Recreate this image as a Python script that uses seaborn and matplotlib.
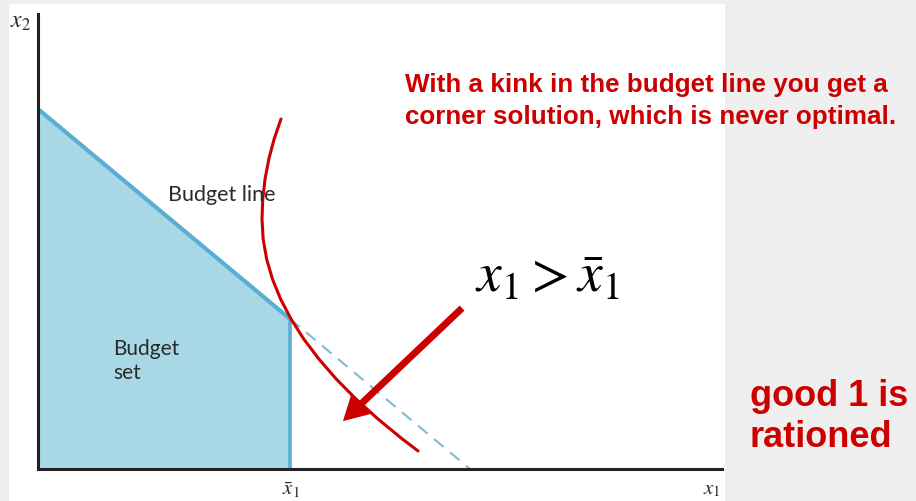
import matplotlib
matplotlib.use("Agg")
import matplotlib.pyplot as plt
from matplotlib.patches import Rectangle
import seaborn as sns
import pandas as pd

# Budget constraint: x2-intercept, x1-intercept and the ration limit x1_bar
budget_x1 = [0.0, 7.0]
budget_x2 = [10.0, 4.17]
dashed_x1 = [7.0, 12.0]
dashed_x2 = [4.17, 0.0]
ration_x1 = 7.0

# Indifference curve passing through the kink
indiff_x1 = [6.750, 6.560, 6.412, 6.307, 6.243, 6.222, 6.254, 6.351, 6.512,
             6.738, 7.028, 7.382, 7.801, 8.284, 8.832, 9.444, 10.121, 10.558]
indiff_x2 = [9.722, 9.167, 8.611, 8.056, 7.500, 6.944, 6.389, 5.833, 5.278,
             4.722, 4.167, 3.611, 3.056, 2.500, 1.944, 1.389, 0.833, 0.500]

# Arrow pointing at the rationed region
arrow_tail = (11.78, 4.47)
arrow_head = (8.47, 1.33)

RED = "#cc0000"
LINE_BLUE = "#5aaed2"
FILL_BLUE = "#a8d8e6"
DASH_BLUE = "#80bbd0"
INK = "#2a2a2a"

sns.set_theme(style="white")
plt.rcParams["mathtext.fontset"] = "stix"

W, H = 916, 502
fig = plt.figure(figsize=(W / 100, H / 100), dpi=100)
fig.patch.set_facecolor("#efefef")


def fx(px):
    return px / W


def fy(py):
    return 1 - py / H


# white slide panel behind the diagram
fig.patches.append(Rectangle((fx(9), 0), fx(725) - fx(9), fy(5), transform=fig.transFigure,
                             facecolor="white", edgecolor="none", zorder=-1))

ax = fig.add_axes([fx(38), fy(470), fx(722) - fx(38), fy(15) - fy(470)])
ax.set_facecolor("none")
ax.set_xlim(0, 19)
ax.set_ylim(0, 12.64)
ax.set_xticks([])
ax.set_yticks([])
for side in ("top", "right"):
    ax.spines[side].set_visible(False)
for side in ("left", "bottom"):
    ax.spines[side].set_color("#222222")
    ax.spines[side].set_linewidth(2.2)

# budget set
ax.fill_between(budget_x1, budget_x2, 0, color=FILL_BLUE, lw=0, zorder=1)

budget = pd.DataFrame({"x1": budget_x1, "x2": budget_x2})
sns.lineplot(data=budget, x="x1", y="x2", ax=ax, color=LINE_BLUE, lw=3, sort=False,
             estimator=None, zorder=2)
ax.plot([ration_x1, ration_x1], [0, budget_x2[-1]], color=LINE_BLUE, lw=2.6, zorder=2,
        solid_capstyle="butt")
ax.plot(dashed_x1, dashed_x2, color=DASH_BLUE, lw=1.5, dashes=(6, 4), zorder=2)

indiff = pd.DataFrame({"x1": indiff_x1, "x2": indiff_x2})
sns.lineplot(data=indiff, x="x1", y="x2", ax=ax, color=RED, lw=2.2, sort=False,
             estimator=None, zorder=4)

ax.annotate("", xy=arrow_head, xytext=arrow_tail,
            arrowprops=dict(arrowstyle="simple,head_length=1.8,head_width=2.0,tail_width=0.5",
                            mutation_scale=10, color=RED, lw=0, shrinkA=0, shrinkB=0),
            zorder=5)
ax.set_xlabel("")
ax.set_ylabel("")

# axis labels
fig.text(fx(20), fy(21), r"$x_2$", fontsize=17, color=INK, ha="center", va="center")
fig.text(fx(291), fy(490), r"$\bar{x}_1$", fontsize=15, color=INK, ha="center", va="center")
fig.text(fx(712), fy(489), r"$x_1$", fontsize=15, color=INK, ha="center", va="center")

# region labels
fig.text(fx(168), fy(195), "Budget line", fontsize=15.5, family="Lato", color=INK,
         ha="left", va="center")
fig.text(fx(113), fy(361), "Budget\nset", fontsize=15, family="Lato", color=INK,
         ha="left", va="center", linespacing=1.3)

# annotations
fig.text(fx(405), fy(101), "With a kink in the budget line you get a\n"
         "corner solution, which is never optimal.",
         fontsize=18.7, family="Liberation Sans", weight="bold", color=RED,
         ha="left", va="center", linespacing=1.37)
fig.text(fx(475), fy(292), r"$x_{\mathit{1}} > \bar{x}_{\mathit{1}}$", fontsize=40,
         color="black", ha="left", va="baseline")
fig.text(fx(750), fy(417), "good 1 is\nrationed", fontsize=26, family="Liberation Sans",
         weight="bold", color=RED, ha="left", va="center", linespacing=1.25)

fig.savefig("out.png", dpi=100, facecolor=fig.get_facecolor())
